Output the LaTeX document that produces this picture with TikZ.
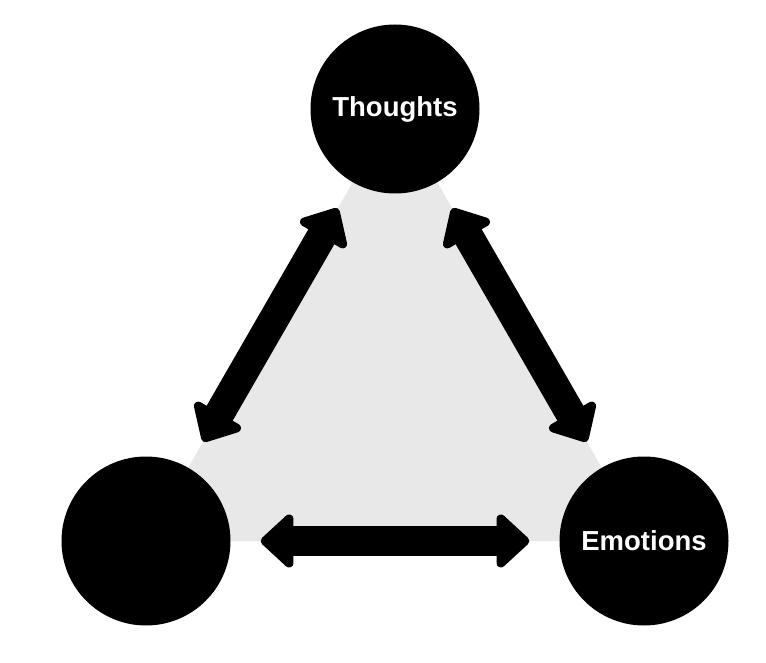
\documentclass[tikz,border=0pt]{standalone}
\usepackage{fontspec}
\setmainfont{Liberation Sans}
\usetikzlibrary{arrows.meta,backgrounds}
\definecolor{trigray}{HTML}{E8E8E8}
\begin{document}
\begin{tikzpicture}[x=1pt,y=-1pt,
  ball/.style={circle,fill=black,minimum size=169pt,inner sep=0pt,
    text=white,font=\fontsize{27.5}{30}\selectfont\bfseries},
  bigarrow/.style={line width=30pt,
    {Triangle[length=35pt,width=62pt,round]}-{Triangle[length=35pt,width=62pt,round]},
    shorten <=30pt, shorten >=30pt}]
\useasboundingbox (0,0) rectangle (766,663);
\node[ball] (T) at (395,109) {Thoughts};
\node[ball] (B) at (146,541) {};
\node[ball] (E) at (644,541) {Emotions};
\begin{scope}[on background layer]
\fill[trigray] (T.center) -- (B.center) -- (E.center) -- cycle;
\end{scope}
\draw[bigarrow] (T) -- (B);
\draw[bigarrow] (T) -- (E);
\draw[bigarrow] (B) -- (E);
\end{tikzpicture}
\end{document}
